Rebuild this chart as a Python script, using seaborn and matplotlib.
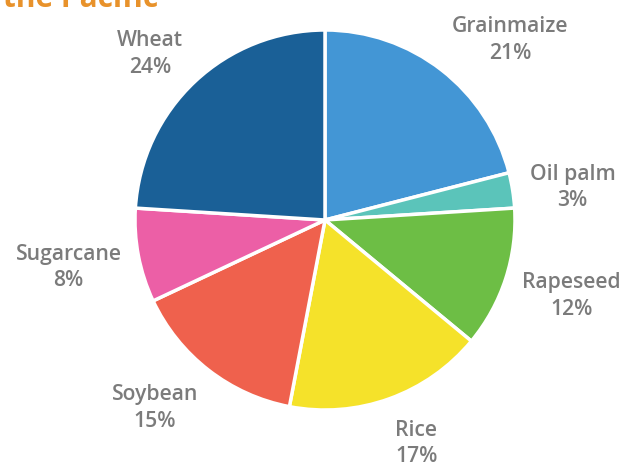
import matplotlib
matplotlib.use('Agg')
import numpy as np
import matplotlib.pyplot as plt
import matplotlib.transforms as mtransforms
import seaborn as sns

crops = ['Grainmaize', 'Oil palm', 'Rapeseed', 'Rice', 'Soybean', 'Sugarcane', 'Wheat']
shares = [21, 3, 12, 17, 15, 8, 24]
kleuren = ['#4396D5', '#5BC4BA', '#6DBE45', '#F5E22A', '#EF614D', '#EC5FA6', '#1A6097']

sns.set_theme(style="white")
plt.rcParams['font.family'] = ['Open Sans', 'DejaVu Sans']

fig = plt.figure(figsize=(6.21, 4.66), dpi=100)
# pie centre ~(325,220) px, radius ~190 px
ax = fig.add_axes([(325 - 190) / 621, (466 - 220 - 190) / 466, 380 / 621, 380 / 466])

labels = [f"{c}\n{s}%" for c, s in zip(crops, shares)]
wedges, texts = ax.pie(shares, labels=labels, colors=kleuren, startangle=90,
                       counterclock=False, labeldistance=1.09,
                       wedgeprops=dict(edgecolor='white', linewidth=2.5))

for w, t in zip(wedges, texts):
    hoek = np.deg2rad((w.theta1 + w.theta2) / 2)
    # labels boven de taart iets omhoog, onder de taart iets omlaag
    dy = (26 * np.sin(hoek) - 4) * 72 / 100
    t.set_transform(mtransforms.offset_copy(t.get_transform(), fig=fig, x=0, y=dy, units='points'))
    t.set_va('center')
    t.set_multialignment('center')
    t.set_color('#7b7b7b')
    t.set_fontsize(15.2)
    t.set_fontweight('semibold')
    t.set_linespacing(1.35)

ax.set_xlim(-1, 1)
ax.set_ylim(-1, 1)
ax.set_aspect('equal')

# titel is afgesneden bovenaan
fig.text(158 / 621, 1 - 7 / 466, "Asia and the Pacific", ha='right', va='baseline',
         color='#E8922B', fontsize=21.5, fontweight='bold')

fig.savefig('out.png', dpi=100)
